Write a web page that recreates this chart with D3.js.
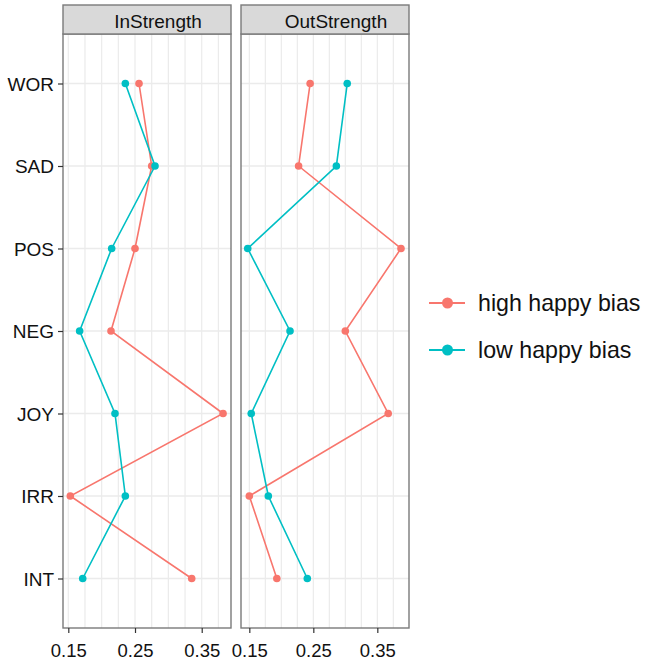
<!DOCTYPE html>
<html>
<head>
<meta charset="utf-8">
<script src="https://cdn.jsdelivr.net/npm/d3@7"></script>
<style>
  body { margin: 0; background: #fff; }
  svg text { font-family: "Liberation Sans", Arial, sans-serif; }
</style>
</head>
<body>
<svg class="chart"></svg>
<script>
// Datos
var categories = ["WOR", "SAD", "POS", "NEG", "JOY", "IRR", "INT"];
var panels = ["InStrength", "OutStrength"];
var groups = ["high happy bias", "low happy bias"];
var inHigh  = [0.256, 0.275, 0.250, 0.214, 0.382, 0.153, 0.335];
var inLow   = [0.2355, 0.280, 0.215, 0.167, 0.220, 0.2355, 0.1716];
var outHigh = [0.245, 0.227, 0.387, 0.300, 0.367, 0.150, 0.193];
var outLow  = [0.303, 0.286, 0.1475, 0.2136, 0.153, 0.1797, 0.2406];
var xTicks = [0.15, 0.25, 0.35];

var width = 645, height = 660;
var colors = { "high happy bias": "#F8766D", "low happy bias": "#00BFC4" };

var svg = d3.select(".chart")
    .attr("width", width)
    .attr("height", height);

// Paneles
var panelTop = 34, panelBottom = 628, stripTop = 5;
var panelDefs = [
  { name: panels[0], x0: 63, x1: 231, domain: [0.14205, 0.3939], high: inHigh, low: inLow },
  { name: panels[1], x0: 241, x1: 409, domain: [0.137, 0.3995], high: outHigh, low: outLow }
];

var y = d3.scalePoint()
    .domain(categories)
    .range([panelTop, panelBottom])
    .padding(0.6);

panelDefs.forEach(function(p, pi) {
  var x = d3.scaleLinear().domain(p.domain).range([p.x0, p.x1]);
  var g = svg.append("g");

  // rejilla vertical cada 0.025
  var grid = d3.range(0.125, 0.401, 0.025).map(function(v) { return Math.round(v * 1000) / 1000; })
      .filter(function(v) { return v >= p.domain[0] && v <= p.domain[1]; });
  g.selectAll(".vgrid")
      .data(grid)
    .enter().append("line")
      .attr("x1", function(d) { return x(d); })
      .attr("x2", function(d) { return x(d); })
      .attr("y1", panelTop)
      .attr("y2", panelBottom)
      .attr("stroke", "#EBEBEB")
      .attr("stroke-width", 1.2);

  g.selectAll(".hgrid")
      .data(categories)
    .enter().append("line")
      .attr("x1", p.x0)
      .attr("x2", p.x1)
      .attr("y1", function(d) { return y(d); })
      .attr("y2", function(d) { return y(d); })
      .attr("stroke", "#EBEBEB")
      .attr("stroke-width", 1.5);

  // series
  var series = [
    { key: groups[0], values: p.high },
    { key: groups[1], values: p.low }
  ];
  var line = d3.line()
      .x(function(d) { return x(d.v); })
      .y(function(d) { return y(d.c); });

  series.forEach(function(s) {
    var pts = categories.map(function(c, i) { return { c: c, v: s.values[i] }; });
    g.append("path")
        .datum(pts)
        .attr("fill", "none")
        .attr("stroke", colors[s.key])
        .attr("stroke-width", 1.6)
        .attr("d", line);
    g.selectAll(null)
        .data(pts)
      .enter().append("circle")
        .attr("cx", function(d) { return x(d.v); })
        .attr("cy", function(d) { return y(d.c); })
        .attr("r", 3.8)
        .attr("fill", colors[s.key]);
  });

  // borde del panel
  g.append("rect")
      .attr("x", p.x0)
      .attr("y", panelTop)
      .attr("width", p.x1 - p.x0)
      .attr("height", panelBottom - panelTop)
      .attr("fill", "none")
      .attr("stroke", "#7a7a7a")
      .attr("stroke-width", 1.4);

  // tira superior
  g.append("rect")
      .attr("x", p.x0)
      .attr("y", stripTop)
      .attr("width", p.x1 - p.x0)
      .attr("height", panelTop - stripTop)
      .attr("fill", "#D9D9D9")
      .attr("stroke", "#7a7a7a")
      .attr("stroke-width", 1.4);
  g.append("text")
      .attr("x", (p.x0 + p.x1) / 2 + 11)
      .attr("y", 28)
      .attr("text-anchor", "middle")
      .attr("font-size", 19)
      .attr("fill", "#111")
      .text(p.name);

  // eje x
  var ax = g.append("g")
      .attr("transform", "translate(0," + panelBottom + ")")
      .call(d3.axisBottom(x).tickValues(xTicks).tickSize(5).tickPadding(5)
        .tickFormat(d3.format(".2f")));
  ax.select(".domain").remove();
  ax.selectAll("line").attr("stroke", "#333").attr("stroke-width", 1.2);
  ax.selectAll("text").attr("font-size", 18.5).attr("fill", "#111").attr("dy", "1em");

  // eje y solo en el primer panel
  if (pi === 0) {
    var ay = g.append("g")
        .attr("transform", "translate(" + p.x0 + ",0)")
        .call(d3.axisLeft(y).tickSize(5).tickPadding(4));
    ay.select(".domain").remove();
    ay.selectAll("line").attr("stroke", "#333").attr("stroke-width", 1.2);
    ay.selectAll("text").attr("font-size", 19).attr("fill", "#111").attr("dy", "0.36em");
  }
});

// Leyenda
var legend = svg.append("g");
groups.forEach(function(k, i) {
  var ly = 303 + i * 47;
  legend.append("line")
      .attr("x1", 429).attr("x2", 465)
      .attr("y1", ly).attr("y2", ly)
      .attr("stroke", colors[k])
      .attr("stroke-width", 1.8);
  legend.append("circle")
      .attr("cx", 447.5).attr("cy", ly)
      .attr("r", 5.5)
      .attr("fill", colors[k]);
  legend.append("text")
      .attr("x", 478)
      .attr("y", ly)
      .attr("dy", "0.35em")
      .attr("font-size", 23.2)
      .attr("fill", "#111")
      .text(k);
});
</script>
</body>
</html>
